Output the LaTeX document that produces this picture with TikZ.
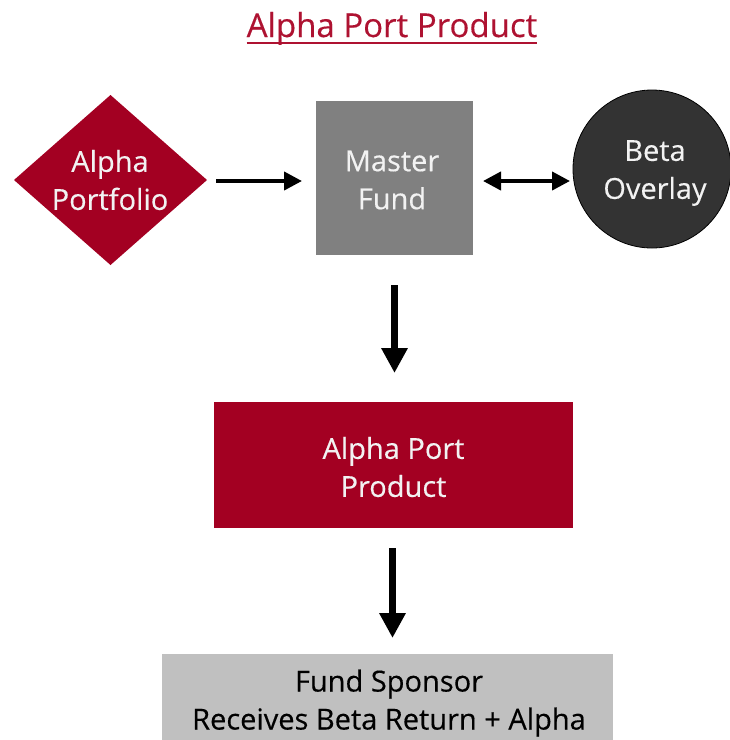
\documentclass[tikz,border=0pt]{standalone}
\usepackage{fontspec}
\setmainfont[FakeBold=0.35]{Open Sans}
\usetikzlibrary{shapes.geometric,arrows.meta}
\definecolor{portred}{HTML}{A30022}
\definecolor{titlered}{HTML}{AE1231}
\definecolor{mastergray}{HTML}{808080}
\definecolor{overlaydark}{HTML}{333333}
\definecolor{sponsorgray}{HTML}{C0C0C0}
\definecolor{lighttext}{HTML}{F2F2F2}
\begin{document}
\begin{tikzpicture}[x=1pt,y=-1pt,
  every node/.style={inner sep=0pt, outer sep=0pt},
  titletext/.style={text=titlered, font=\fontsize{33}{38}\selectfont},
  boxtext/.style={align=center, font=\fontsize{29}{38}\selectfont},
  redbox/.style={rectangle, fill=portred},
  flatarrow/.style={line width=4pt, -{Triangle[length=18pt 0,width=18pt 0]}},
  twowayarrow/.style={line width=4pt, {Triangle[length=18pt 0,width=18pt 0]}-{Triangle[length=18pt 0,width=18pt 0]}},
  downarrow/.style={line width=7pt, -{Triangle[length=25pt 0,width=25pt 0]}}
]
\useasboundingbox (0,0) rectangle (730,740);
\clip (0,0) rectangle (730,740);

% heading
\node[titletext, anchor=base] (title) at (392,37) {Alpha Port Product};
\draw[titlered, line width=2pt] ([yshift=-6pt]title.base west) -- ([yshift=-6pt]title.base east);

% top row
\node[diamond, fill=portred, minimum width=193pt, minimum height=170pt] (ap) at (110.5,180) {};
\node[boxtext, text=lighttext] (aptext) at (110,180) {Alpha\\Portfolio};

\node[rectangle, fill=mastergray, minimum width=157pt, minimum height=154pt] (mf) at (394.5,178) {};
\node[boxtext, text=lighttext] (mftext) at (392,180) {Master\\Fund};

\node[circle, fill=overlaydark, draw=black, line width=0.8pt, minimum size=158pt] (bo) at (652,169) {};
\node[boxtext, text=lighttext] (botext) at (655,173) {Beta\\Overlay};

% middle product box
\node[redbox, minimum width=359pt, minimum height=126pt] (app) at (393.5,465) {};
\node[boxtext, text=lighttext] (apptext) at (393.5,467) {Alpha Port\\Product};

% sponsor box, running off the bottom edge
\node[rectangle, fill=sponsorgray, minimum width=451pt, minimum height=110pt, anchor=north] (fs) at (387.5,654) {};
\node[boxtext, text=black] (fstext) at (389,703) {Fund Sponsor\\Receives Beta Return + Alpha};

% connectors
\draw[flatarrow, shorten <=9pt, shorten >=14pt] ([yshift=-1pt]ap.east) -- ([yshift=-1pt]ap.east -| mf.west);
\draw[twowayarrow, shorten <=10pt, shorten >=3pt] ([yshift=-3pt]mf.east) -- ([yshift=-3pt]mf.east -| bo.west);
\draw[downarrow, shorten <=30pt, shorten >=29pt] (mf.south) -- (mf.south |- app.north);
\draw[downarrow, shorten <=20pt, shorten >=16pt] ([xshift=-1pt]app.south) -- ([xshift=-1pt]app.south |- fs.north);
\end{tikzpicture}
\end{document}
